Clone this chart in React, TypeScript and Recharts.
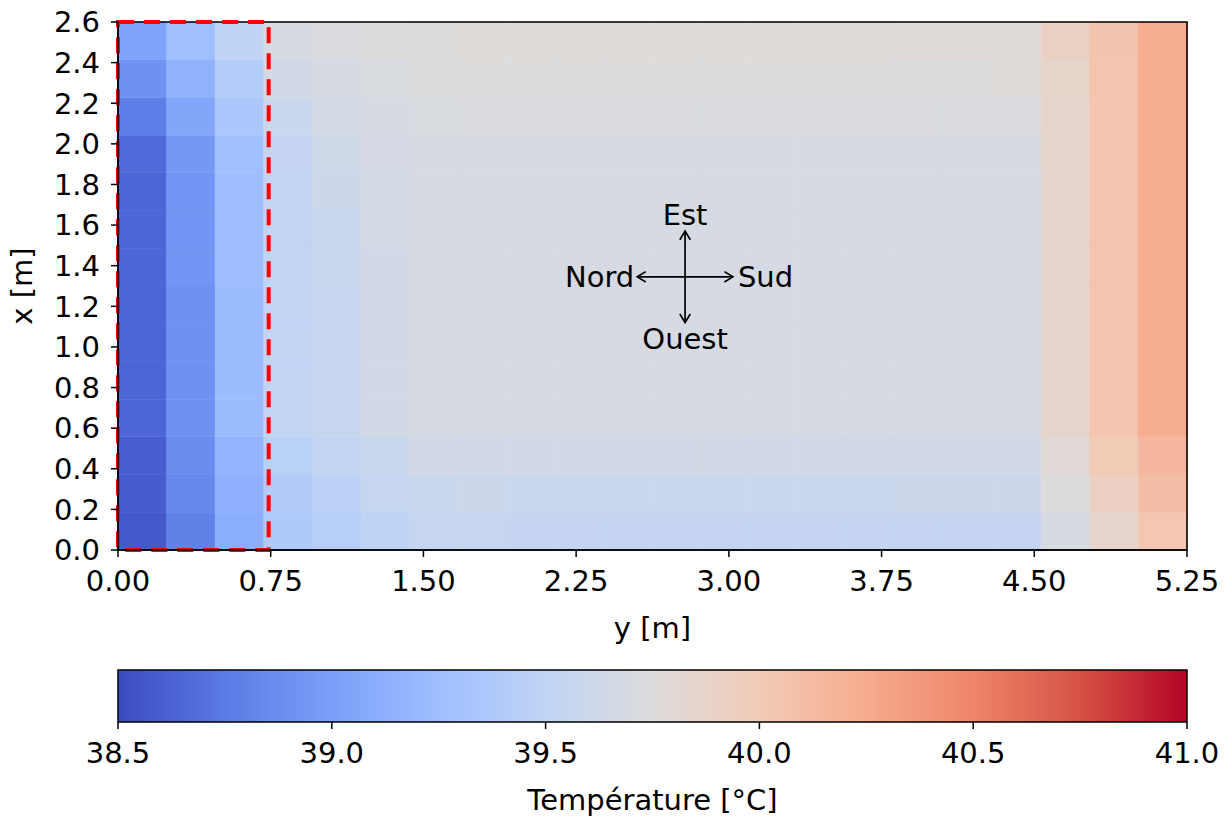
import React from 'react';
import { ScatterChart, Scatter, XAxis, YAxis, ReferenceArea, ReferenceLine, ReferenceDot } from 'recharts';

// ---------- data ----------
const Y_MAX = 5.25; // horizontal axis: y [m]
const X_MAX = 2.6; // vertical axis: x [m]
const N_COLS = 22;
const N_ROWS = 14;

const Y_TICKS = [0, 0.75, 1.5, 2.25, 3.0, 3.75, 4.5, 5.25];
const X_TICKS = [0, 0.2, 0.4, 0.6, 0.8, 1.0, 1.2, 1.4, 1.6, 1.8, 2.0, 2.2, 2.4, 2.6];
const CB_TICKS = [38.5, 39.0, 39.5, 40.0, 40.5, 41.0];
const T_MIN = 38.5;
const T_MAX = 41.0;

// matplotlib "coolwarm" key colours (t = 0 .. 1 in steps of 0.1)
const COOLWARM = ['#3b4cc0', '#5b7ae5', '#7b9ff9', '#9ebeff', '#c0d4f5', '#dddcdc', '#f2cbb7', '#f7ac8e', '#ee8468', '#d65244', '#b40426'];

// temperatures [°C], one array per row of cells, from x = 0 (bottom) to x = 2.6 (top)
const ROW_00 = [38.57, 38.80, 39.11, 39.37, 39.43, 39.49, 39.55, 39.55, 39.54, 39.54, 39.54, 39.54, 39.54, 39.54, 39.54, 39.54, 39.54, 39.54, 39.54, 39.69, 39.86, 40.03];
const ROW_01 = [38.59, 38.84, 39.14, 39.40, 39.47, 39.55, 39.59, 39.60, 39.59, 39.59, 39.59, 39.59, 39.59, 39.59, 39.59, 39.59, 39.60, 39.60, 39.60, 39.75, 39.93, 40.11];
const ROW_02 = [38.60, 38.87, 39.17, 39.45, 39.51, 39.58, 39.65, 39.65, 39.65, 39.65, 39.65, 39.65, 39.65, 39.65, 39.65, 39.65, 39.65, 39.65, 39.65, 39.79, 40.00, 40.16];
const ROW_03 = [38.64, 38.91, 39.23, 39.51, 39.56, 39.65, 39.69, 39.69, 39.69, 39.69, 39.69, 39.69, 39.69, 39.69, 39.69, 39.69, 39.69, 39.69, 39.69, 39.85, 40.05, 40.24];
const ROW_04 = [38.64, 38.91, 39.23, 39.51, 39.56, 39.65, 39.69, 39.69, 39.69, 39.69, 39.69, 39.69, 39.69, 39.69, 39.69, 39.69, 39.69, 39.69, 39.69, 39.85, 40.05, 40.24];
const ROW_05 = [38.64, 38.91, 39.23, 39.51, 39.56, 39.65, 39.69, 39.69, 39.69, 39.69, 39.69, 39.69, 39.69, 39.69, 39.69, 39.69, 39.69, 39.69, 39.69, 39.85, 40.05, 40.24];
const ROW_06 = [38.64, 38.91, 39.23, 39.51, 39.56, 39.65, 39.69, 39.69, 39.69, 39.69, 39.69, 39.69, 39.69, 39.69, 39.69, 39.69, 39.69, 39.69, 39.69, 39.85, 40.05, 40.24];
const ROW_07 = [38.64, 38.93, 39.24, 39.51, 39.57, 39.65, 39.69, 39.69, 39.69, 39.69, 39.69, 39.69, 39.69, 39.69, 39.69, 39.69, 39.69, 39.69, 39.69, 39.85, 40.05, 40.24];
const ROW_08 = [38.64, 38.93, 39.24, 39.51, 39.58, 39.66, 39.69, 39.69, 39.69, 39.69, 39.69, 39.69, 39.69, 39.69, 39.69, 39.69, 39.69, 39.69, 39.69, 39.85, 40.05, 40.24];
const ROW_09 = [38.64, 38.93, 39.24, 39.53, 39.60, 39.66, 39.69, 39.69, 39.69, 39.69, 39.69, 39.69, 39.69, 39.69, 39.69, 39.69, 39.69, 39.69, 39.69, 39.85, 40.05, 40.24];
const ROW_10 = [38.66, 38.95, 39.26, 39.54, 39.62, 39.67, 39.69, 39.70, 39.70, 39.70, 39.70, 39.70, 39.70, 39.70, 39.70, 39.70, 39.70, 39.70, 39.70, 39.85, 40.05, 40.24];
const ROW_11 = [38.78, 39.06, 39.35, 39.59, 39.66, 39.69, 39.71, 39.72, 39.72, 39.72, 39.72, 39.72, 39.72, 39.72, 39.72, 39.72, 39.72, 39.72, 39.72, 39.85, 40.05, 40.24];
const ROW_12 = [38.91, 39.15, 39.41, 39.65, 39.69, 39.71, 39.74, 39.75, 39.75, 39.75, 39.75, 39.75, 39.75, 39.75, 39.75, 39.75, 39.75, 39.75, 39.77, 39.87, 40.05, 40.24];
const ROW_13 = [39.03, 39.26, 39.49, 39.68, 39.72, 39.75, 39.76, 39.77, 39.77, 39.77, 39.77, 39.77, 39.77, 39.77, 39.77, 39.77, 39.78, 39.78, 39.78, 39.91, 40.06, 40.24];

const ROWS = [ROW_00, ROW_01, ROW_02, ROW_03, ROW_04, ROW_05, ROW_06, ROW_07, ROW_08, ROW_09, ROW_10, ROW_11, ROW_12, ROW_13];

// highlighted zone and compass (data coordinates: y horizontal, x vertical)
const ZONE_Y_END = 0.74;
const COMPASS_Y = 2.785;
const COMPASS_X = 1.345;
const COMPASS_HALF_Y = 0.235;
const COMPASS_HALF_X = 0.225;

// ---------- helpers ----------
const FONT = 'DejaVu Sans, Verdana, sans-serif';
const FS = 29;

const hexToRgb = (h: string) => [parseInt(h.slice(1, 3), 16), parseInt(h.slice(3, 5), 16), parseInt(h.slice(5, 7), 16)];

const coolwarm = (temp: number): string => {
  const t = Math.min(1, Math.max(0, (temp - T_MIN) / (T_MAX - T_MIN)));
  const n = COOLWARM.length - 1;
  const i = Math.min(n - 1, Math.floor(t * n));
  const f = t * n - i;
  const a = hexToRgb(COOLWARM[i]);
  const b = hexToRgb(COOLWARM[i + 1]);
  const c = a.map((v, k) => Math.round(v + (b[k] - v) * f));
  return `rgb(${c[0]},${c[1]},${c[2]})`;
};

const cells = ROWS.flatMap((row, r) =>
  row.map((temp, c) => ({
    key: `${r}-${c}`,
    y1: (c * Y_MAX) / N_COLS,
    y2: ((c + 1) * Y_MAX) / N_COLS,
    x1: (r * X_MAX) / N_ROWS,
    x2: ((r + 1) * X_MAX) / N_ROWS,
    temp,
  }))
);

const centers = cells.map((c) => ({ y: (c.y1 + c.y2) / 2, x: (c.x1 + c.x2) / 2, temp: c.temp }));

const head = (px: number, py: number, fx: number, fy: number) => {
  const ang = Math.atan2(py - fy, px - fx);
  const L = 10;
  const W = 0.55;
  const p1 = [px - L * Math.cos(ang - W), py - L * Math.sin(ang - W)];
  const p2 = [px - L * Math.cos(ang + W), py - L * Math.sin(ang + W)];
  return `${p1[0]},${p1[1]} ${px},${py} ${p2[0]},${p2[1]}`;
};

const DoubleArrow = (props: any) => {
  const { x1, y1, x2, y2 } = props;
  return (
    <g>
      <line x1={x1} y1={y1} x2={x2} y2={y2} stroke="#000" strokeWidth={1.7} />
      <polyline points={head(x2, y2, x1, y1)} fill="none" stroke="#000" strokeWidth={1.7} />
      <polyline points={head(x1, y1, x2, y2)} fill="none" stroke="#000" strokeWidth={1.7} />
    </g>
  );
};

const txt = (label: string, dx: number, dy: number, anchor: 'start' | 'middle' | 'end') => (p: any) => (
  <text x={p.cx + dx} y={p.cy + dy} textAnchor={anchor} fontFamily={FONT} fontSize={FS} fill="#000">
    {label}
  </text>
);

const XTitle = (props: any) => {
  const vb = props.viewBox || {};
  return (
    <text x={vb.x + vb.width / 2} y={vb.y + 88} textAnchor="middle" fontFamily={FONT} fontSize={FS} fill="#000">
      y [m]
    </text>
  );
};

const YTitle = (props: any) => {
  const vb = props.viewBox || {};
  const cx = vb.x + 24;
  const cy = vb.y + vb.height / 2;
  return (
    <text x={cx} y={cy} transform={`rotate(-90, ${cx}, ${cy})`} textAnchor="middle" fontFamily={FONT} fontSize={FS} fill="#000">
      x [m]
    </text>
  );
};

const CbTitle = (props: any) => {
  const vb = props.viewBox || {};
  return (
    <text x={vb.x + vb.width / 2} y={vb.y + 88} textAnchor="middle" fontFamily={FONT} fontSize={FS} fill="#000">
      Température [°C]
    </text>
  );
};

const tickStyle = { fill: '#000', fontSize: FS, fontFamily: FONT };
const lineStyle = { stroke: '#000', strokeWidth: 1.5 };

const cbData = [
  { t: T_MIN, v: 0 },
  { t: T_MAX, v: 1 },
];

export default function App() {
  return (
    <div style={{ width: 1210, fontFamily: FONT }}>
      <style>{'.recharts-surface { overflow: visible; }'}</style>
      <svg width={0} height={0} style={{ position: 'absolute' }}>
        <defs>
          <linearGradient id="coolwarmGrad" x1="0" y1="0" x2="1" y2="0">
            {COOLWARM.map((c, i) => (
              <stop key={c} offset={`${(i / (COOLWARM.length - 1)) * 100}%`} stopColor={c} />
            ))}
          </linearGradient>
        </defs>
      </svg>
      <ScatterChart width={1210} height={640} margin={{ top: 14, right: 31, bottom: 0, left: 0 }}>
        <XAxis
          type="number"
          dataKey="y"
          domain={[0, Y_MAX]}
          ticks={Y_TICKS}
          interval={0}
          allowDataOverflow
          tickFormatter={(v: number) => v.toFixed(2)}
          tick={tickStyle}
          tickSize={7}
          tickMargin={13}
          axisLine={lineStyle}
          tickLine={lineStyle}
          height={98}
          label={<XTitle />}
        />
        <YAxis
          type="number"
          dataKey="x"
          domain={[0, X_MAX]}
          ticks={X_TICKS}
          interval={0}
          allowDataOverflow
          tickFormatter={(v: number) => v.toFixed(1)}
          tick={tickStyle}
          tickSize={7}
          tickMargin={11}
          axisLine={lineStyle}
          tickLine={lineStyle}
          width={110}
          label={<YTitle />}
        />
        {cells.map((c) => {
          const col = coolwarm(c.temp);
          return (
            <ReferenceArea
              key={c.key}
              x1={c.y1}
              x2={c.y2}
              y1={c.x1}
              y2={c.x2}
              fill={col}
              fillOpacity={1}
              stroke={col}
              strokeWidth={0.6}
              ifOverflow="visible"
            />
          );
        })}
        <Scatter data={centers} isAnimationActive={false} shape={() => <g />} />
        <ReferenceArea x1={0} x2={Y_MAX} y1={0} y2={X_MAX} fill="none" fillOpacity={0} stroke="#000" strokeWidth={1.6} ifOverflow="visible" />
        <ReferenceArea
          x1={0}
          x2={ZONE_Y_END}
          y1={0}
          y2={X_MAX}
          fill="none"
          fillOpacity={0}
          stroke="#ff0000"
          strokeWidth={4}
          strokeDasharray="16 10"
          ifOverflow="visible"
        />
        <ReferenceLine
          segment={[
            { x: COMPASS_Y - COMPASS_HALF_Y, y: COMPASS_X },
            { x: COMPASS_Y + COMPASS_HALF_Y, y: COMPASS_X },
          ]}
          shape={DoubleArrow}
          ifOverflow="visible"
        />
        <ReferenceLine
          segment={[
            { x: COMPASS_Y, y: COMPASS_X - COMPASS_HALF_X },
            { x: COMPASS_Y, y: COMPASS_X + COMPASS_HALF_X },
          ]}
          shape={DoubleArrow}
          ifOverflow="visible"
        />
        <ReferenceDot x={COMPASS_Y} y={COMPASS_X + COMPASS_HALF_X} r={0} shape={txt('Est', 0, -6, 'middle')} ifOverflow="visible" />
        <ReferenceDot x={COMPASS_Y} y={COMPASS_X - COMPASS_HALF_X} r={0} shape={txt('Ouest', 0, 26, 'middle')} ifOverflow="visible" />
        <ReferenceDot x={COMPASS_Y - COMPASS_HALF_Y} y={COMPASS_X} r={0} shape={txt('Nord', -3, 10, 'end')} ifOverflow="visible" />
        <ReferenceDot x={COMPASS_Y + COMPASS_HALF_Y} y={COMPASS_X} r={0} shape={txt('Sud', 5, 10, 'start')} ifOverflow="visible" />
      </ScatterChart>
      <ScatterChart width={1210} height={168} margin={{ top: 22, right: 31, bottom: 0, left: 110 }}>
        <XAxis
          type="number"
          dataKey="t"
          domain={[T_MIN, T_MAX]}
          ticks={CB_TICKS}
          interval={0}
          allowDataOverflow
          tickFormatter={(v: number) => v.toFixed(1)}
          tick={tickStyle}
          tickSize={7}
          tickMargin={13}
          axisLine={false}
          tickLine={lineStyle}
          height={94}
          label={<CbTitle />}
        />
        <YAxis type="number" dataKey="v" domain={[0, 1]} hide />
        <ReferenceArea
          x1={T_MIN}
          x2={T_MAX}
          y1={0}
          y2={1}
          fill="url(#coolwarmGrad)"
          fillOpacity={1}
          stroke="#000"
          strokeWidth={1.5}
          ifOverflow="visible"
        />
        <Scatter data={cbData} isAnimationActive={false} shape={() => <g />} />
      </ScatterChart>
    </div>
  );
}
